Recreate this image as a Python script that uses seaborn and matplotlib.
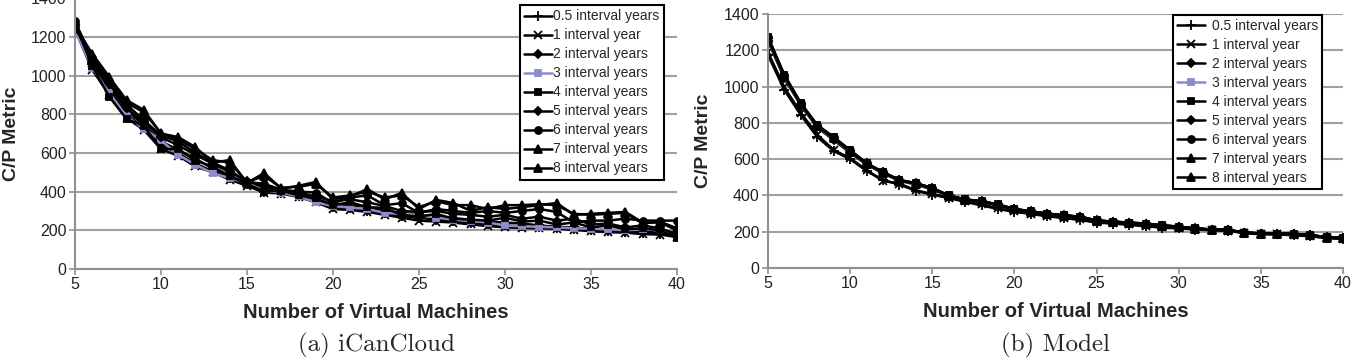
import pandas as pd
import matplotlib
matplotlib.use("Agg")
import matplotlib.pyplot as plt
import seaborn as sns

vms = list(range(5, 41))

series_names = [
    "0.5 interval years", "1 interval year", "2 interval years",
    "3 interval years", "4 interval years", "5 interval years",
    "6 interval years", "7 interval years", "8 interval years",
]

# (a) iCanCloud - simulated C/P metric
sim_05 = [1250, 1060, 930, 800, 730, 640, 600, 545, 505, 470, 440, 400, 395, 375, 350, 320, 315, 300,
          290, 275, 265, 255, 250, 240, 232, 225, 220, 215, 212, 205, 200, 195, 190, 185, 180, 170]
sim_1 = [1240, 1030, 900, 780, 720, 620, 585, 530, 500, 462, 430, 395, 390, 372, 345, 310, 305, 295,
         280, 265, 250, 245, 240, 230, 222, 215, 212, 210, 208, 202, 195, 190, 188, 180, 178, 165]
sim_2 = [1265, 1080, 950, 820, 745, 660, 615, 570, 520, 480, 445, 420, 400, 385, 360, 335, 330, 320,
         300, 290, 280, 270, 262, 255, 245, 240, 235, 225, 218, 215, 205, 200, 195, 192, 188, 185]
sim_3 = [1235, 1040, 910, 790, 725, 665, 590, 540, 495, 470, 445, 405, 395, 375, 345, 325, 318, 310,
         290, 285, 280, 265, 255, 248, 240, 225, 220, 218, 215, 210, 208, 205, 200, 205, 200, 190]
sim_4 = [1270, 1050, 890, 775, 740, 620, 620, 560, 530, 480, 440, 400, 405, 380, 365, 330, 345, 320,
         315, 280, 270, 285, 260, 255, 250, 265, 245, 250, 230, 240, 215, 225, 205, 210, 200, 160]
sim_5 = [1260, 1070, 960, 830, 760, 680, 640, 590, 545, 500, 455, 430, 405, 395, 375, 350, 360, 345,
         325, 300, 295, 300, 285, 280, 270, 280, 260, 270, 250, 260, 230, 235, 215, 225, 210, 180]
sim_6 = [1280, 1090, 970, 850, 770, 690, 660, 600, 550, 510, 450, 440, 410, 400, 395, 340, 370, 380,
         330, 340, 290, 310, 300, 290, 300, 290, 300, 310, 295, 240, 250, 250, 260, 250, 250, 250]
sim_7 = [1255, 1114, 992, 873, 822, 700, 682, 630, 550, 563, 445, 496, 415, 430, 450, 360, 375, 413,
         360, 393, 310, 357, 341, 300, 320, 310, 320, 330, 341, 280, 285, 290, 295, 240, 240, 200]
sim_8 = [1245, 1100, 980, 860, 810, 703, 670, 620, 563, 550, 450, 480, 420, 425, 440, 370, 380, 400,
         370, 380, 320, 350, 330, 330, 310, 330, 330, 335, 330, 285, 280, 285, 290, 235, 245, 210]

# (b) Model - analytical C/P metric
mod_05 = [1174, 981, 843, 722, 645, 600, 535, 485, 460, 425, 405, 385, 365, 345, 325, 310, 298, 285,
          275, 265, 250, 245, 238, 230, 222, 218, 212, 208, 205, 192, 186, 185, 180, 175, 165, 160]
mod_1 = [1190, 995, 855, 735, 650, 605, 540, 480, 465, 428, 408, 388, 368, 350, 328, 312, 300, 288,
         278, 268, 252, 247, 240, 232, 225, 220, 214, 210, 206, 194, 188, 186, 182, 176, 166, 162]
mod_2 = [1250, 1045, 895, 775, 705, 635, 570, 522, 480, 460, 432, 398, 375, 362, 345, 322, 310, 298,
         288, 280, 260, 254, 248, 242, 232, 226, 216, 211, 208, 194, 190, 189, 186, 180, 168, 164]
mod_3 = [1260, 1055, 900, 780, 712, 640, 572, 525, 482, 462, 436, 400, 376, 365, 348, 324, 311, 300,
         289, 282, 261, 255, 249, 244, 234, 227, 217, 212, 209, 195, 190, 190, 187, 181, 169, 165]
mod_4 = [1274, 1063, 909, 788, 722, 650, 578, 529, 485, 468, 441, 400, 378, 368, 350, 325, 312, 300,
         290, 283, 262, 255, 250, 245, 235, 228, 218, 212, 210, 195, 190, 190, 188, 182, 170, 165]
mod_5 = [1268, 1060, 905, 785, 718, 646, 576, 527, 484, 466, 440, 399, 377, 367, 349, 325, 312, 299,
         290, 282, 262, 255, 249, 244, 234, 228, 218, 212, 210, 195, 190, 190, 188, 181, 169, 165]
mod_6 = [1272, 1062, 907, 787, 720, 648, 577, 528, 485, 467, 441, 400, 378, 368, 350, 326, 312, 300,
         290, 283, 262, 256, 250, 245, 235, 228, 218, 213, 210, 196, 191, 190, 188, 182, 170, 166]
mod_7 = [1262, 1058, 902, 782, 715, 642, 574, 526, 483, 464, 438, 398, 376, 366, 347, 323, 311, 299,
         289, 281, 261, 254, 248, 243, 233, 227, 217, 211, 209, 194, 189, 189, 187, 181, 168, 164]
mod_8 = [1266, 1060, 904, 784, 716, 644, 575, 527, 484, 465, 439, 399, 377, 367, 348, 324, 311, 299,
         289, 282, 261, 255, 249, 244, 234, 227, 217, 212, 209, 195, 190, 189, 187, 181, 169, 165]

sim_data = [sim_05, sim_1, sim_2, sim_3, sim_4, sim_5, sim_6, sim_7, sim_8]
mod_data = [mod_05, mod_1, mod_2, mod_3, mod_4, mod_5, mod_6, mod_7, mod_8]

markers = ["+", "x", "D", "s", "s", "D", "o", "^", "^"]
marker_sizes = [7, 6, 4, 5, 5, 4, 5, 6, 6]
colors = ["black", "black", "black", "#8c8cc8", "black", "black", "black", "black", "black"]


def to_long(values_list):
    rows = []
    for name, vals in zip(series_names, values_list):
        for x, v in zip(vms, vals):
            rows.append({"VMs": x, "CP": v, "Serie": name})
    return pd.DataFrame(rows)


df_sim = to_long(sim_data)
df_mod = to_long(mod_data)

sns.set_style("white")
plt.rcParams["font.family"] = ["Liberation Sans", "DejaVu Sans"]

fig = plt.figure(figsize=(13.53, 3.62), dpi=100)
ax1 = fig.add_axes([0.0554, 0.257, 0.445, 0.748])
ax2 = fig.add_axes([0.5676, 0.2597, 0.425, 0.7017])


def draw_panel(ax, df, handle_pad, caption, legend_box, ylabel_x):
    for name, mk, ms, col in zip(series_names, markers, marker_sizes, colors):
        sns.lineplot(data=df[df["Serie"] == name], x="VMs", y="CP", ax=ax,
                     color=col, marker=mk, markersize=ms, linewidth=1.8,
                     markeredgecolor=col, markeredgewidth=1.3, label=name)
    ax.set_xlim(5, 40)
    ax.set_ylim(0, 1400)
    ax.set_xticks([5, 10, 15, 20, 25, 30, 35, 40])
    ax.set_yticks(range(0, 1401, 200))
    ax.yaxis.grid(True, color="#a0a0a0", linewidth=1.5)
    ax.xaxis.grid(False)
    for side in ["top", "right"]:
        ax.spines[side].set_visible(False)
    for side in ["left", "bottom"]:
        ax.spines[side].set_color("#909090")
        ax.spines[side].set_linewidth(1.5)
    ax.tick_params(axis="both", labelsize=11.5, colors="#909090", labelcolor="#222222",
                   length=4, width=1.2, direction="out", left=True, bottom=True, pad=2)
    ax.set_xlabel("Number of Virtual Machines", fontsize=14.5, fontweight="bold", labelpad=8)
    ax.set_ylabel("C/P Metric", fontsize=14, fontweight="bold")
    ax.yaxis.set_label_coords(ylabel_x, 0.5)
    leg = ax.legend(loc="upper left", bbox_to_anchor=legend_box, fontsize=10,
                    frameon=True, fancybox=False, handlelength=2.0,
                    handletextpad=handle_pad, labelspacing=0.36, borderpad=0.3,
                    borderaxespad=0)
    leg.get_frame().set_edgecolor("black")
    leg.get_frame().set_linewidth(1.5)
    leg.get_frame().set_alpha(1)
    pos = ax.get_position()
    fig.text(pos.x0 + pos.width / 2, 1 - 345 / 362, caption, ha="center", va="center",
             fontsize=18, family="cmr10")


draw_panel(ax1, df_sim, 0.1, "(a) iCanCloud", (0.739, 0.974), -0.091)
draw_panel(ax2, df_mod, 0.5, "(b) Model", (0.704, 0.996), -0.097)

fig.savefig("out.png", dpi=100)
